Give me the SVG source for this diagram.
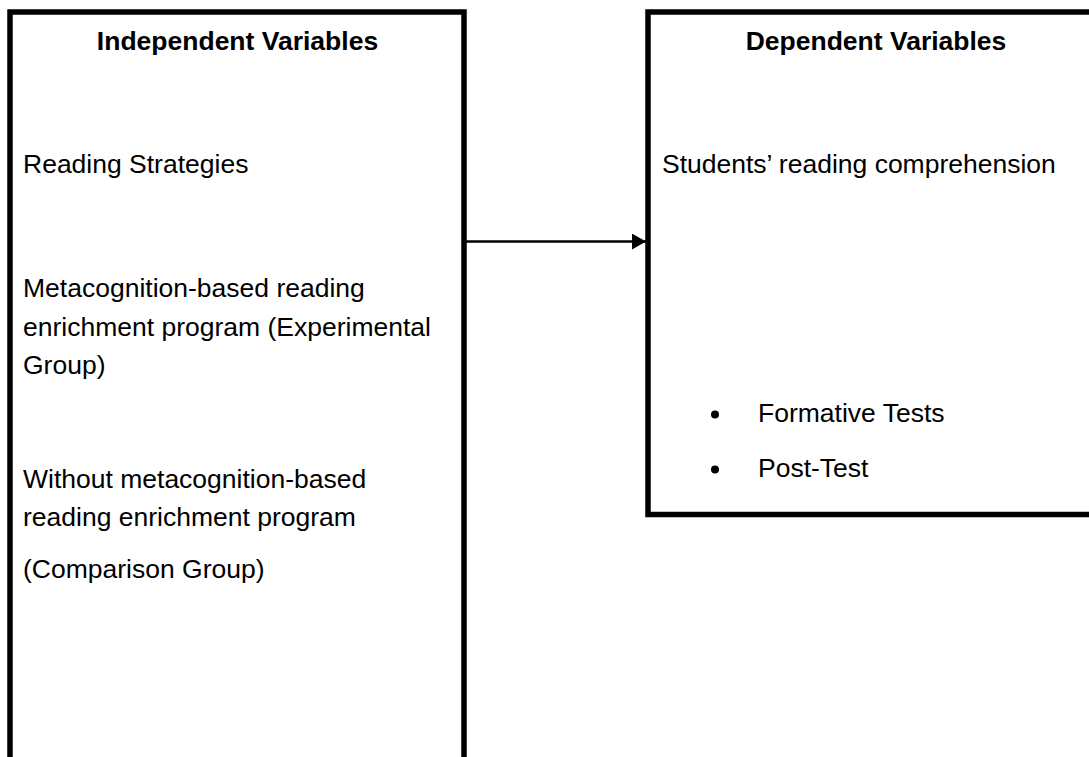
<svg xmlns="http://www.w3.org/2000/svg" width="1089" height="757" viewBox="0 0 1089 757">
  <style>
    .box { fill: #ffffff; stroke: #000000; stroke-width: 5.5; }
    .head { font-family: "Liberation Sans", Arial, sans-serif; font-size: 26.5px; font-weight: bold; fill: #000000; text-anchor: middle; }
    .body { font-family: "Liberation Sans", Arial, sans-serif; font-size: 26.5px; fill: #000000; }
    .conn { stroke: #000000; stroke-width: 2.5; fill: none; }
  </style>
  <defs>
    <marker id="arrow" markerUnits="userSpaceOnUse" markerWidth="14" markerHeight="16" refX="14" refY="8" orient="auto">
      <path d="M0,0 L14,8 L0,16 Z" fill="#000000"/>
    </marker>
  </defs>
  <rect width="1089" height="757" fill="#ffffff"/>
  <g id="independent">
    <rect class="box" x="10" y="12" width="454" height="800"/>
    <text class="head" x="237.5" y="50">Independent Variables</text>
    <text class="body" x="23" y="173">Reading Strategies</text>
    <text class="body" x="23" y="297">Metacognition-based reading</text>
    <text class="body" x="23" y="336">enrichment program (Experimental</text>
    <text class="body" x="23" y="374">Group)</text>
    <text class="body" x="23" y="488">Without metacognition-based</text>
    <text class="body" x="23" y="526">reading enrichment program</text>
    <text class="body" x="23" y="578">(Comparison Group)</text>
  </g>
  <g id="dependent">
    <rect class="box" x="648" y="12" width="500" height="502.5"/>
    <text class="head" x="876" y="50">Dependent Variables</text>
    <text class="body" x="662" y="173">Students’ reading comprehension</text>
    <circle cx="715" cy="414.5" r="4" fill="#000000"/>
    <text class="body" x="758" y="422">Formative Tests</text>
    <circle cx="715" cy="469.5" r="4" fill="#000000"/>
    <text class="body" x="758" y="477">Post-Test</text>
  </g>
  <g id="connectors">
    <line class="conn" x1="466" y1="241.5" x2="646" y2="241.5" marker-end="url(#arrow)"/>
  </g>
</svg>
